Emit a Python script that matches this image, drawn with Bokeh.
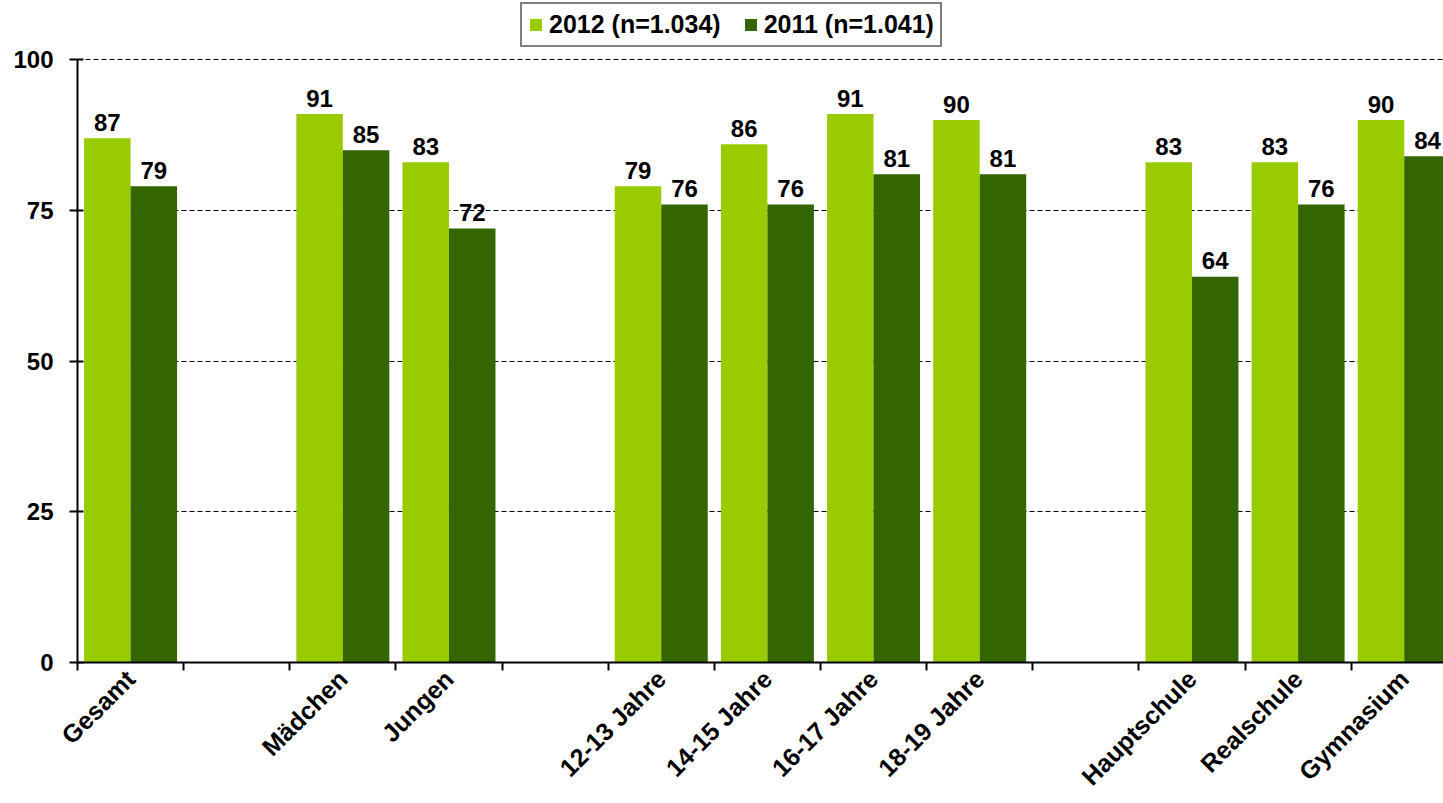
import math
from bokeh.plotting import figure
from bokeh.models import (ColumnDataSource, Range1d, FixedTicker, Legend, LegendItem)
from bokeh.embed import file_html
from bokeh.resources import INLINE
from bokeh.core.properties import value

# ---- data ----
groups = [
    ["Gesamt"],
    ["Mädchen", "Jungen"],
    ["12-13 Jahre", "14-15 Jahre", "16-17 Jahre", "18-19 Jahre"],
    ["Hauptschule", "Realschule", "Gymnasium"],
]
series_2012 = [87, 91, 83, 79, 86, 91, 90, 83, 83, 90]
series_2011 = [79, 85, 72, 76, 76, 81, 81, 64, 76, 84]
label_2012 = "2012 (n=1.034)"
label_2011 = "2011 (n=1.041)"
y_ticks = [0, 25, 50, 75, 100]

# ---- layout of slots (one empty slot between groups) ----
categories, slots = [], []
pos = 0
for gi, g in enumerate(groups):
    if gi > 0:
        pos += 1
    for c in g:
        categories.append(c)
        slots.append(pos)
        pos += 1
n_slots = pos

LIGHT = "#99CC00"
DARK = "#336600"
FONT = "Liberation Sans"
bw = 0.438

W, H = 1443, 803
BL, BB = 77, 141
FRAME_H = H - BB
Y_TOP_PX = 59.3          # screen position of the value 100
y_end = 100 * FRAME_H / (FRAME_H - Y_TOP_PX)

x12 = [s + 0.5 - bw / 2 for s in slots]
x11 = [s + 0.5 + bw / 2 for s in slots]
src12 = ColumnDataSource(dict(x=x12, top=series_2012, lab=[str(v) for v in series_2012]))
src11 = ColumnDataSource(dict(x=x11, top=series_2011, lab=[str(v) for v in series_2011]))

p = figure(width=W, height=H, output_backend="svg", toolbar_location=None,
           x_range=Range1d(0, n_slots - 0.13), y_range=Range1d(0, y_end),
           min_border_left=BL, min_border_right=0, min_border_top=0, min_border_bottom=BB)
p.outline_line_color = None
p.background_fill_color = "white"
p.border_fill_color = "white"

r12 = p.vbar(x="x", top="top", width=bw, source=src12, fill_color=LIGHT, line_color=None)
r11 = p.vbar(x="x", top="top", width=bw, source=src11, fill_color=DARK, line_color=None)

for src in (src12, src11):
    p.text(x="x", y="top", text="lab", source=src, text_align="center",
           text_baseline="alphabetic", y_offset=-16,
           text_font=value(FONT), text_font_style="bold", text_font_size="24px",
           text_color="black")

# grid
p.xgrid.visible = False
p.ygrid.ticker = FixedTicker(ticks=y_ticks)
p.ygrid.grid_line_color = "black"
p.ygrid.grid_line_width = 1
p.ygrid.grid_line_dash = "5 3"

# y axis
p.yaxis.ticker = FixedTicker(ticks=y_ticks)
p.yaxis.bounds = (0, 100)
p.yaxis.axis_line_width = 2
p.yaxis.axis_line_color = "black"
p.yaxis.major_tick_line_width = 2
p.yaxis.major_tick_line_color = "black"
p.yaxis.major_tick_out = 8
p.yaxis.major_tick_in = 6
p.yaxis.minor_tick_line_color = None
p.yaxis.major_label_standoff = 16
p.yaxis.major_label_text_font = FONT
p.yaxis.major_label_text_font_style = "bold"
p.yaxis.major_label_text_font_size = "24px"
p.yaxis.major_label_text_color = "black"

# x axis: labels at slot centres, tick marks at slot boundaries
centers = [s + 0.5 for s in slots]
p.xaxis.ticker = FixedTicker(ticks=centers, minor_ticks=list(range(0, n_slots + 1)))
p.xaxis.major_label_overrides = {c: name for c, name in zip(centers, categories)}
p.xaxis.major_label_orientation = math.pi / 4
p.xaxis.axis_line_width = 2
p.xaxis.axis_line_color = "black"
p.xaxis.major_tick_line_color = None
p.xaxis.major_tick_out = 0
p.xaxis.major_tick_in = 0
p.xaxis.minor_tick_line_color = "black"
p.xaxis.minor_tick_line_width = 2
p.xaxis.minor_tick_out = 8
p.xaxis.minor_tick_in = 0
p.xaxis.major_label_standoff = 4
p.xaxis.major_label_text_font = FONT
p.xaxis.major_label_text_font_style = "bold"
p.xaxis.major_label_text_font_size = "25px"
p.xaxis.major_label_text_color = "black"

legend = Legend(items=[LegendItem(label=label_2012, renderers=[r12]),
                       LegendItem(label=label_2011, renderers=[r11])],
                orientation="horizontal", location=(443, FRAME_H - 47),
                glyph_width=15, glyph_height=15, label_standoff=6, spacing=22,
                padding=6, margin=0,
                label_text_font=FONT, label_text_font_style="bold",
                label_text_font_size="25px", label_text_color="black",
                border_line_color="black", border_line_width=2,
                background_fill_color="white", background_fill_alpha=1)
p.add_layout(legend, "center")

open("out.html", "w").write(file_html(p, INLINE))
